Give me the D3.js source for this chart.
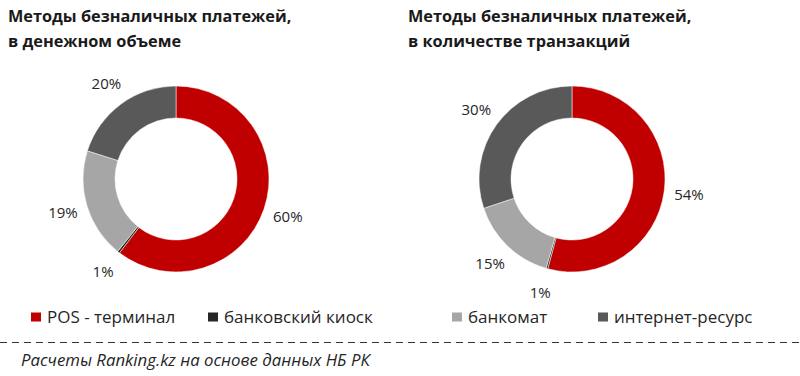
<!DOCTYPE html>
<html>
<head>
<meta charset="utf-8">
<script src="https://cdn.jsdelivr.net/npm/d3@7"></script>
<style>
  body { margin: 0; background: #fff; }
  svg { display: block; font-family: "Open Sans", Lato, sans-serif; }
</style>
</head>
<body>
<svg id="chart" width="800" height="376"></svg>
<script>
// categories and values (shares, %)
var categories = ["POS - терминал", "банковский киоск", "банкомат", "интернет-ресурс"];
var volumeValues = [60.4, 0.4, 19.1, 20.1];
var volumeLabels = ["60%", "1%", "19%", "20%"];
var countValues = [54.2, 0.3, 15.4, 30.1];
var countLabels = ["54%", "1%", "15%", "30%"];
var titles = [
  ["Методы безналичных платежей,", "в денежном объеме"],
  ["Методы безналичных платежей,", "в количестве транзакций"]
];
var source = "Расчеты Ranking.kz на основе данных НБ РК";

var colors = d3.scaleOrdinal()
  .domain(categories)
  .range(["#c00000", "#262626", "#a6a6a6", "#595959"]);

var svg = d3.select("#chart");

var pie = d3.pie().sort(null).value(function(d) { return d.v; });
var arc = d3.arc().innerRadius(61).outerRadius(93);
var labelArc = d3.arc().innerRadius(118).outerRadius(118);

function donut(cx, cy, values, labels, title, tx) {
  // title, two lines
  var t = svg.append("text")
    .attr("x", tx).attr("y", 22)
    .attr("font-size", 16.3).attr("font-weight", "bold").attr("fill", "#1a1a1a");
  t.selectAll("tspan").data(title).enter().append("tspan")
    .attr("x", tx).attr("dy", function(d, i) { return i ? 25 : 0; })
    .text(function(d) { return d; });

  var g = svg.append("g").attr("transform", "translate(" + cx + "," + cy + ")");
  var data = pie(values.map(function(v, i) { return { v: v, c: categories[i], l: labels[i] }; }));

  g.selectAll("path").data(data).enter().append("path")
    .attr("d", arc)
    .attr("fill", function(d) { return colors(d.data.c); })
    .attr("stroke", "#fff").attr("stroke-width", 0.5);

  g.selectAll("text.lbl").data(data).enter().append("text")
    .attr("class", "lbl")
    .attr("transform", function(d) { return "translate(" + labelArc.centroid(d) + ")"; })
    .attr("text-anchor", "middle").attr("dy", "0.35em")
    .attr("font-size", 15).attr("fill", "#262626")
    .text(function(d) { return d.data.l; });
}

donut(176, 179, volumeValues, volumeLabels, titles[0], 8);
donut(572, 179, countValues, countLabels, titles[1], 408);

// legend
var legendPos = [31, 208, 452, 598];
var lg = svg.selectAll("g.legend").data(categories).enter().append("g")
  .attr("class", "legend")
  .attr("transform", function(d, i) { return "translate(" + legendPos[i] + ",317)"; });
lg.append("rect").attr("x", 0).attr("y", -4.5).attr("width", 10).attr("height", 9)
  .attr("fill", function(d) { return colors(d); });
lg.append("text").attr("x", 16).attr("dy", "0.35em")
  .attr("font-size", 17).attr("fill", "#262626")
  .text(function(d) { return d; });

// dashed separator
svg.append("line").attr("x1", 0).attr("x2", 800).attr("y1", 342.5).attr("y2", 342.5)
  .attr("stroke", "#333").attr("stroke-width", 1).attr("stroke-dasharray", "7,5");

svg.append("text").attr("x", 21).attr("y", 366)
  .attr("font-size", 16.8).attr("font-style", "italic").attr("fill", "#262626")
  .text(source);
</script>
</body>
</html>
